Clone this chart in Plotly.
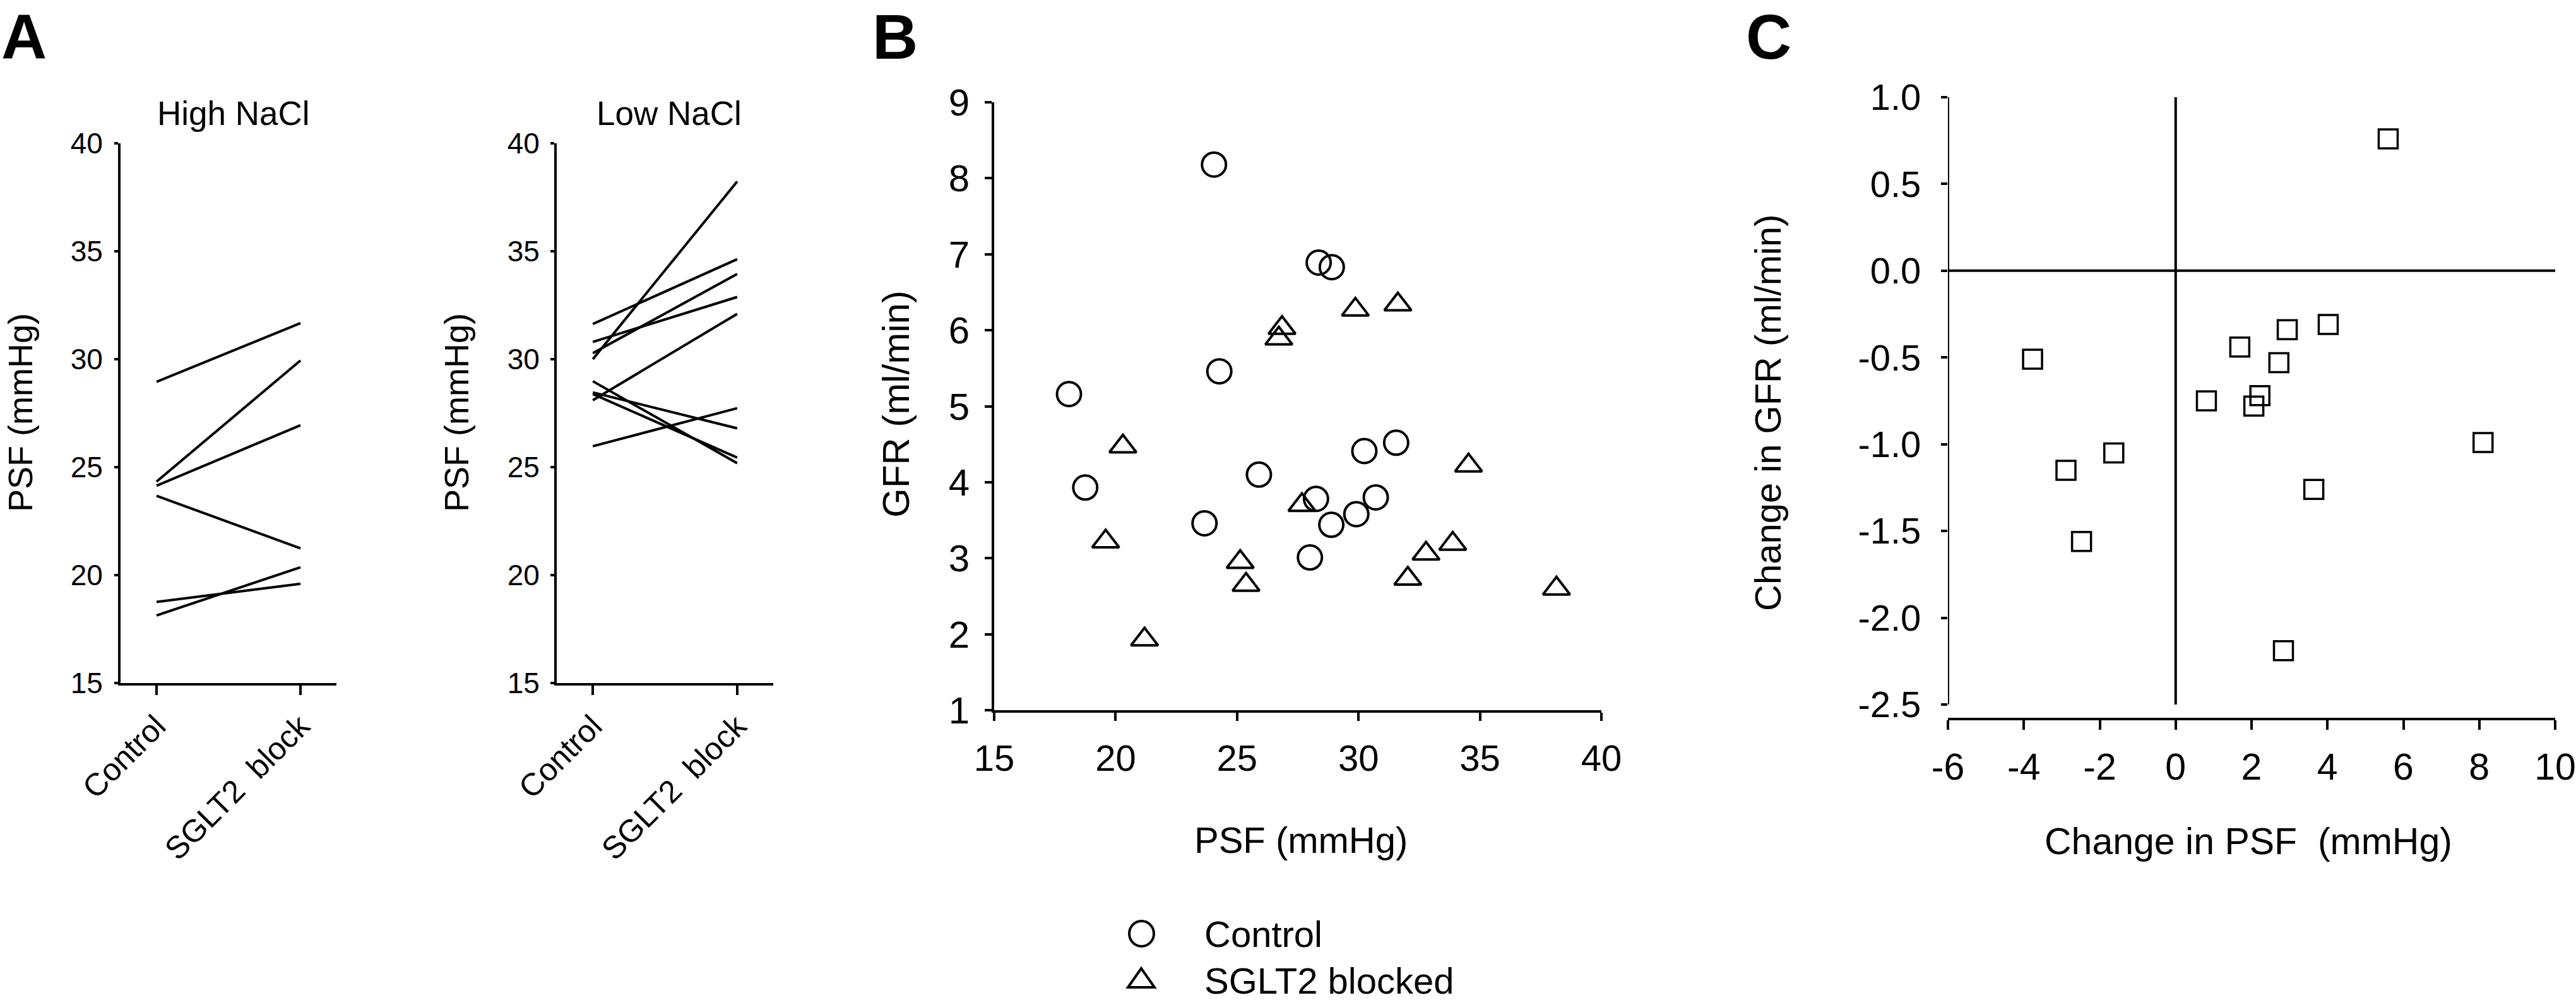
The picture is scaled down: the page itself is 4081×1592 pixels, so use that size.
import plotly.graph_objects as go

# ---------------- data ----------------
categories = ["Control", "SGLT2\u00a0\u00a0block"]

high_control = [28.95, 24.33, 24.14, 23.67, 18.76, 18.13]
high_sglt2 = [31.67, 29.94, 26.94, 21.24, 19.60, 20.36]

low_control = [31.63, 30.80, 30.28, 30.00, 28.98, 28.46, 28.39, 28.10, 25.97]
low_sglt2 = [34.63, 32.88, 33.95, 38.23, 25.18, 26.80, 25.44, 32.10, 27.73]

ctrl_psf = [24.05, 28.36, 28.90, 24.27, 18.08, 31.55, 30.24, 25.90, 18.75, 28.25, 30.71, 29.91, 28.88, 23.66, 28.00]
ctrl_gfr = [8.18, 6.89, 6.83, 5.46, 5.16, 4.52, 4.41, 4.10, 3.93, 3.78, 3.80, 3.58, 3.44, 3.46, 3.01]

sglt_psf = [31.62, 29.87, 26.85, 26.72, 20.30, 34.53, 27.67, 19.59, 33.88, 32.78, 25.13, 32.03, 25.37, 38.15, 21.19]
sglt_gfr = [6.34, 6.27, 6.03, 5.89, 4.47, 4.22, 3.70, 3.22, 3.19, 3.06, 2.95, 2.73, 2.65, 2.60, 1.93]

delta_psf = [5.60, -3.77, 1.69, 2.94, 4.02, 2.72, 0.81, 2.22, 2.06, 8.10, -2.89, -1.63, 3.64, -2.48, 2.84]
delta_gfr = [0.76, -0.51, -0.44, -0.34, -0.31, -0.53, -0.75, -0.72, -0.78, -0.99, -1.15, -1.05, -1.26, -1.56, -2.19]

a_yticks = [15, 20, 25, 30, 35, 40]
b_xticks = [15, 20, 25, 30, 35, 40]
b_yticks = [1, 2, 3, 4, 5, 6, 7, 8, 9]
c_xticks = [-6, -4, -2, 0, 2, 4, 6, 8, 10]
c_xticktext = ["-6", "-4", "-2", "0", "2", "4", "6", "8", "10"]
c_yticks = [-2.5, -2.0, -1.5, -1.0, -0.5, 0.0, 0.5, 1.0]
c_yticktext = ["-2.5", "-2.0", "-1.5", "-1.0", "-0.5", "0.0", "0.5", "1.0"]

# ---------------- layout helpers ----------------
W, H = 4081, 1592
FONT = "Liberation Sans, Arial, sans-serif"
BLACK = "#000000"
LW = 4


def px(x):
    return x / W


def py(y):
    return 1 - y / H


def pair_xy(before, after):
    xs, ys = [], []
    for b, a in zip(before, after):
        xs += [0, 1, None]
        ys += [b, a, None]
    return xs, ys


fig = go.Figure()

hx, hy = pair_xy(high_control, high_sglt2)
fig.add_trace(go.Scatter(x=hx, y=hy, mode="lines", line=dict(color=BLACK, width=LW),
                         xaxis="x", yaxis="y", showlegend=False, hoverinfo="skip"))
lx, ly = pair_xy(low_control, low_sglt2)
fig.add_trace(go.Scatter(x=lx, y=ly, mode="lines", line=dict(color=BLACK, width=LW),
                         xaxis="x2", yaxis="y2", showlegend=False, hoverinfo="skip"))

fig.add_trace(go.Scatter(x=ctrl_psf, y=ctrl_gfr, mode="markers", name="Control",
                         marker=dict(symbol="circle-open", size=38, color=BLACK, line=dict(width=4)),
                         xaxis="x3", yaxis="y3", showlegend=False))
fig.add_trace(go.Scatter(x=sglt_psf, y=sglt_gfr, mode="markers", name="SGLT2 blocked",
                         marker=dict(symbol="triangle-up-open", size=37, color=BLACK, line=dict(width=4)),
                         xaxis="x3", yaxis="y3", showlegend=False))

fig.add_trace(go.Scatter(x=delta_psf, y=delta_gfr, mode="markers",
                         marker=dict(symbol="square-open", size=30, color=BLACK, line=dict(width=3.5)),
                         xaxis="x4", yaxis="y4", showlegend=False))

common = dict(showgrid=False, zeroline=False, showline=True, linecolor=BLACK, linewidth=LW,
              ticks="outside", tickcolor=BLACK, tickwidth=LW, color=BLACK)

a_ydom = [py(1082), py(227)]
layout_axes = dict(
    xaxis=dict(domain=[px(191), px(533)], range=[-0.25, 1.25], tickvals=[0, 1], ticktext=categories,
               tickangle=-45, ticklen=15, tickfont=dict(size=50), anchor="y", **common),
    yaxis=dict(domain=a_ydom, range=[15, 40], tickvals=a_yticks, ticklen=6, ticklabelstandoff=9,
               tickfont=dict(size=46), anchor="x", **common),
    xaxis2=dict(domain=[px(882), px(1225)], range=[-0.25, 1.25], tickvals=[0, 1], ticktext=categories,
                tickangle=-45, ticklen=15, tickfont=dict(size=50), anchor="y2", **common),
    yaxis2=dict(domain=a_ydom, range=[15, 40], tickvals=a_yticks, ticklen=6, ticklabelstandoff=8,
                tickfont=dict(size=46), anchor="x2", **common),
    xaxis3=dict(domain=[px(1575), px(2537)], range=[15, 40], tickvals=b_xticks, ticklen=13,
                ticklabelstandoff=9, tickfont=dict(size=58), anchor="y3", **common),
    yaxis3=dict(domain=[py(1125), py(162)], range=[1, 9], tickvals=b_yticks, ticklen=11,
                ticklabelstandoff=12, tickfont=dict(size=60), anchor="x3", **common),
    xaxis4=dict(domain=[px(3086), px(4048)], range=[-6, 10], tickvals=c_xticks, ticktext=c_xticktext,
                ticklen=15, ticklabelstandoff=8, tickfont=dict(size=59), anchor="y4", **common),
)
c_common = dict(common)
c_common["showline"] = False
layout_axes["yaxis4"] = dict(domain=[py(1137), py(154)], range=[-2.5 - 21 / 275.0, 1.0], tickvals=c_yticks,
                             ticktext=c_yticktext, ticklen=10, ticklabelstandoff=20,
                             tickfont=dict(size=58), anchor="x4", **c_common)

shapes = [
    # panel C y-axis line and zero lines
    dict(type="line", xref="x4", yref="y4", x0=-6, x1=-6, y0=-2.5, y1=1.0, line=dict(color=BLACK, width=LW)),
    dict(type="line", xref="x4", yref="y4", x0=0, x1=0, y0=-2.5, y1=1.0, line=dict(color=BLACK, width=LW)),
    dict(type="line", xref="x4", yref="y4", x0=-6, x1=10, y0=0, y1=0, line=dict(color=BLACK, width=LW)),
    # legend keys for panel B
    dict(type="circle", xref="paper", yref="paper", x0=px(1789), x1=px(1828), y0=py(1499), y1=py(1459),
         line=dict(color=BLACK, width=LW)),
    dict(type="path", xref="paper", yref="paper",
         path="M {:.5f} {:.5f} L {:.5f} {:.5f} L {:.5f} {:.5f} Z".format(
             px(1787), py(1564), px(1829), py(1564), px(1808), py(1534)),
         line=dict(color=BLACK, width=LW)),
]


def ann(text, x, y, size, xanchor="center", yanchor="middle", bold=False, angle=0):
    return dict(text=("<b>%s</b>" % text) if bold else text, x=px(x), y=py(y), xref="paper", yref="paper",
                xanchor=xanchor, yanchor=yanchor, showarrow=False, textangle=angle,
                font=dict(family=FONT, size=size, color=BLACK))


annotations = [
    ann("A", 0, 0, 100, xanchor="left", yanchor="top", bold=True),
    ann("B", 1380, 0, 100, xanchor="left", yanchor="top", bold=True),
    ann("C", 2764, 0, 100, xanchor="left", yanchor="top", bold=True),
    ann("High NaCl", 370, 180, 53),
    ann("Low NaCl", 1060, 180, 53),
    ann("PSF (mmHg)", 32, 654, 54, angle=-90),
    ann("PSF (mmHg)", 723, 654, 54, angle=-90),
    ann("GFR (ml/min)", 1419, 640, 60, angle=-90),
    ann("PSF (mmHg)", 2061, 1330, 58),
    ann("Change in GFR (ml/min)", 2800, 654, 58, angle=-90),
    ann("Change in PSF\u00a0\u00a0(mmHg)", 3562, 1333, 59),
    ann("Control", 1906, 1479, 58, xanchor="left"),
    ann("SGLT2 blocked", 1906, 1553, 58, xanchor="left"),
]

fig.update_layout(
    width=W, height=H, margin=dict(l=0, r=0, t=0, b=0, pad=0, autoexpand=False),
    paper_bgcolor="white", plot_bgcolor="white",
    font=dict(family=FONT, color=BLACK),
    shapes=shapes, annotations=annotations, showlegend=False,
    **layout_axes,
)

# remove the default page margin so the figure sits exactly in the window
js = "document.body.style.margin='0';document.body.style.padding='0';"
fig.write_html("out.html", post_script=js, config={"displayModeBar": False})
